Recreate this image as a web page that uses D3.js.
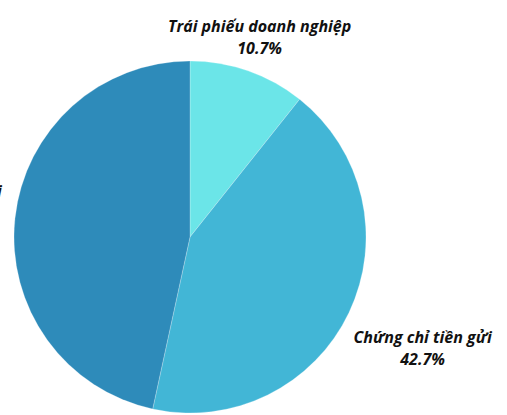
<!DOCTYPE html>
<html>
<head>
<meta charset="utf-8">
<script src="https://cdn.jsdelivr.net/npm/d3@7"></script>
<style>
  body { margin: 0; background: #fff; }
  svg { display: block; }
  .label { font-family: "Open Sans", sans-serif; font-weight: 700; font-style: italic; font-size: 16px; fill: #111; }
</style>
</head>
<body>
<script>
// slice names and shares, clockwise from 12 o'clock
var categories = ["Trái phiếu doanh nghiệp", "Chứng chỉ tiền gửi", "Tiền gửi"];
var shares = [10.7, 42.7, 46.6];
var colors = ["#6be5e8", "#42b6d6", "#2e8bba"];

window.onload = drawPie();

function drawPie(){
    var width = 507,
        height = 415,
        cx = 190,
        cy = 237,
        radius = 176;

    var svg = d3.select("body")
        .append("svg")
        .attr("width", width)
        .attr("height", height);

    var g = svg.append("g")
        .attr("transform", "translate(" + cx + "," + cy + ")");

    var data = categories.map(function(c, i){
        return {name: c, value: shares[i], color: colors[i]};
    });

    var pie = d3.pie()
        .sort(null)
        .value(function(d){ return d.value; });

    var arc = d3.arc().innerRadius(0).outerRadius(radius);

    var arcs = pie(data);

    g.selectAll(".slice")
        .data(arcs)
        .enter()
        .append("path")
        .attr("class", "slice")
        .attr("d", arc)
        .attr("fill", function(d){ return d.data.color; })
        .attr("stroke", "#ffffff")
        .attr("stroke-opacity", 0.4)
        .attr("stroke-width", 0.6);

    //labels sit outside the pie, each at its own distance
    var labelRadius = [211, 257.5, 220];
    var labelShift = [0, 2, -11];

    var labels = g.selectAll(".label")
        .data(arcs)
        .enter()
        .append("text")
        .attr("class", "label")
        .attr("text-anchor", "middle")
        .attr("transform", function(d, i){
            var a = (d.startAngle + d.endAngle) / 2;
            var x = Math.sin(a) * labelRadius[i];
            var y = -Math.cos(a) * labelRadius[i] + labelShift[i];
            return "translate(" + x + "," + y + ")";
        });

    labels.append("tspan")
        .attr("x", 0)
        .attr("y", -6)
        .text(function(d){ return d.data.name; });

    labels.append("tspan")
        .attr("x", 0)
        .attr("y", 16)
        .text(function(d){ return d.data.value.toFixed(1) + "%"; });
}
</script>
</body>
</html>
